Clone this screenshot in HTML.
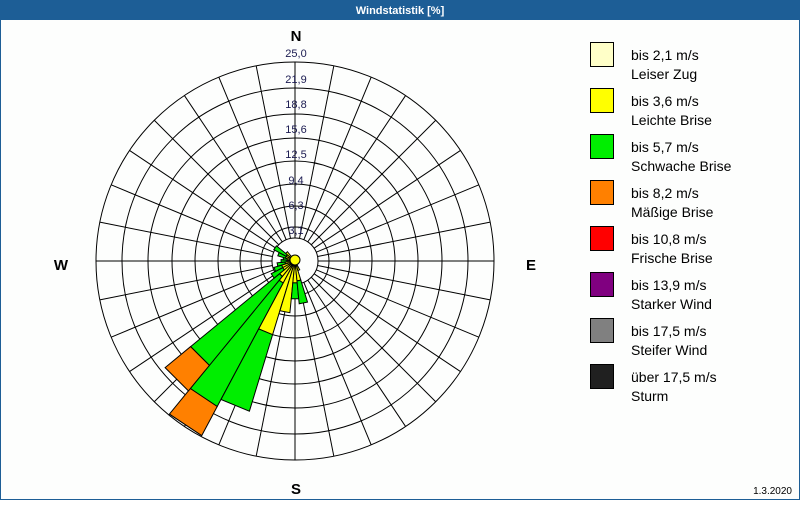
<!DOCTYPE html>
<html><head><meta charset="utf-8"><style>
body{margin:0;width:800px;height:500px;overflow:hidden;background:#fff;font-family:"Liberation Sans",sans-serif}
</style></head><body>
<svg id="s" width="800" height="500" xmlns="http://www.w3.org/2000/svg" font-family="Liberation Sans, sans-serif">
<rect x="0" y="0" width="800" height="500" fill="#1d5e96"/>
<rect x="1" y="20" width="798" height="479" fill="#fdfefd"/>
<text x="400" y="14" fill="#fff" font-size="11" font-weight="bold" text-anchor="middle">Windstatistik [%]</text>
<g id="grid" stroke="#000" stroke-width="1" fill="none"></g>
<g id="pet" stroke="#000" stroke-width="1"></g>
<g id="lab" font-size="11" fill="#1a1a50" text-anchor="middle"></g>
<g font-size="15" font-weight="bold" text-anchor="middle" fill="#000">
<text x="296" y="41">N</text><text x="296" y="494">S</text><text x="61" y="270">W</text><text x="531" y="270">E</text>
</g>
<g id="leg" font-size="14" fill="#000"></g>
<text x="792" y="494" font-size="10" text-anchor="end" fill="#000">1.3.2020</text>
</svg>
<script>
var NS="http://www.w3.org/2000/svg",cx=295,cy=261;
function el(p,t,a){var e=document.createElementNS(NS,t);for(var k in a)e.setAttribute(k,a[k]);p.appendChild(e);return e;}
var g=document.getElementById('grid');
var radii=[199,173,147,123,100,77,55,34];
radii.forEach(function(r){el(g,'circle',{cx:cx,cy:cy,r:r});});
el(g,'circle',{cx:cx,cy:cy,r:23});
for(var i=0;i<32;i++){var a=i*11.25*Math.PI/180;el(g,'line',{x1:cx+23*Math.sin(a),y1:cy-23*Math.cos(a),x2:cx+199*Math.sin(a),y2:cy-199*Math.cos(a)});}
function pt(b,r){var a=b*Math.PI/180;return (cx+r*Math.sin(a)).toFixed(1)+","+(cy-r*Math.cos(a)).toFixed(1);}
var cols=["#ffffc0","#ffff00","#00ee00","#ff8000"];
var P=[[213.75,[4,25,165,198]],[225,[4,20,135,168]],[202.5,[4,77,157,157]],[191.25,[4,52,52,52]],
[180,[4,22,38,38]],[168.75,[4,20,43,43]],[236.25,[4,14,27,27]],[247.5,[4,14,22,22]],[258.75,[4,10,18,18]],
[270,[4,8,14,14]],[281.25,[4,8,12,12]],[292.5,[4,10,18,18]],[303.75,[4,10,24,24]],[315,[4,12,12,12]],[157.5,[4,10,10,10]]];
var pg=document.getElementById('pet');
P.forEach(function(p){var b=p[0],rs=p[1],prev=0;
for(var k=0;k<4;k++){var r=rs[k];if(r>prev){
el(pg,'polygon',{points:[pt(b-5.625,prev),pt(b+5.625,prev),pt(b+5.625,r),pt(b-5.625,r)].join(" "),fill:cols[k]});}
prev=Math.max(prev,r);}});
el(pg,'circle',{cx:cx,cy:cy-1,r:5,fill:"#ffff00"});
var lb=document.getElementById('lab');
var lt=["25,0","21,9","18,8","15,6","12,5","9,4","6,3","3,1"],ly=[57,83,108,133,158,184,209,234];
lt.forEach(function(t,i){var e=el(lb,'text',{x:296,y:ly[i]});e.textContent=t;});
var lg=document.getElementById('leg');
var L=[["#ffffc8","bis 2,1 m/s","Leiser Zug"],["#ffff00","bis 3,6 m/s","Leichte Brise"],["#00ee00","bis 5,7 m/s","Schwache Brise"],["#ff8000","bis 8,2 m/s","Mäßige Brise"],["#ff0000","bis 10,8 m/s","Frische Brise"],["#800080","bis 13,9 m/s","Starker Wind"],["#808080","bis 17,5 m/s","Steifer Wind"],["#202020","über 17,5 m/s","Sturm"]];
L.forEach(function(l,i){var y=42+i*46;
el(lg,'rect',{x:590.5,y:y+0.5,width:23,height:24,fill:l[0],stroke:"#000"});
var t=el(lg,'text',{x:631,y:y+18});t.textContent=l[1];
var t2=el(lg,'text',{x:631,y:y+37});t2.textContent=l[2];});
</script>
</body></html>
